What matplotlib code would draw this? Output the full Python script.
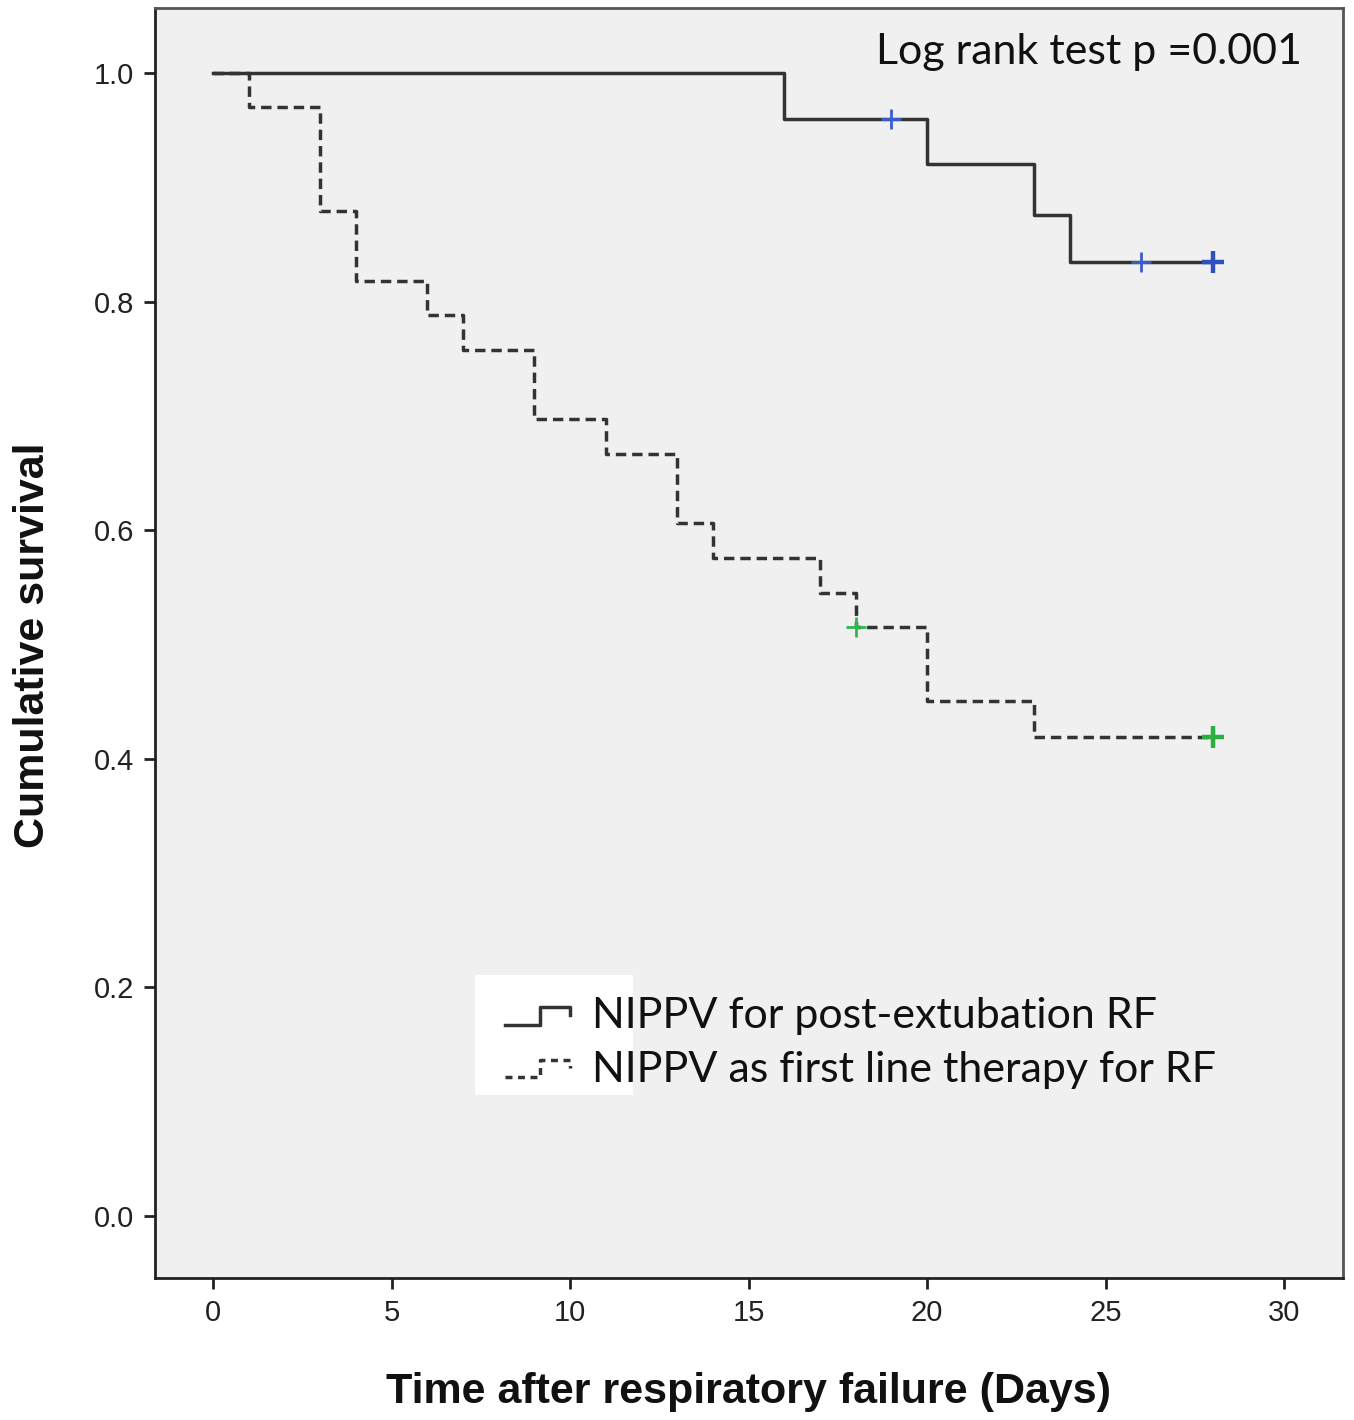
import matplotlib
matplotlib.use("Agg")
import matplotlib.pyplot as plt
from matplotlib.patches import Rectangle
from matplotlib.lines import Line2D

# ---- data ----
post_ext_times = [0, 16, 20, 23, 24, 28]
post_ext_surv = [1.0, 0.96, 0.92, 0.876, 0.835, 0.835]
post_ext_cens_t = [19, 26, 28]
post_ext_cens_s = [0.96, 0.835, 0.835]

first_line_times = [0, 1, 3, 4, 6, 7, 9, 11, 13, 14, 17, 18, 20, 23, 28]
first_line_surv = [1.0, 0.97, 0.879, 0.818, 0.788, 0.758, 0.697, 0.667,
                   0.606, 0.576, 0.545, 0.515, 0.451, 0.419, 0.419]
first_line_cens_t = [18, 28]
first_line_cens_s = [0.515, 0.419]

x_ticks = [0, 5, 10, 15, 20, 25, 30]
y_ticks = [0.0, 0.2, 0.4, 0.6, 0.8, 1.0]
legend_labels = ["NIPPV for post-extubation RF", "NIPPV as first line therapy for RF"]

W, H = 1354, 1420
fig = plt.figure(figsize=(W / 100, H / 100), dpi=100)
fig.patch.set_facecolor("white")
ax = fig.add_axes([155 / W, 1 - 1278 / H, (1343 - 155) / W, (1278 - 8) / H])
ax.set_facecolor("#f0f0f0")

line_col = "#333333"
ax.step(post_ext_times, post_ext_surv, where="post", color=line_col, lw=2.5, zorder=3)
ax.step(first_line_times, first_line_surv, where="post", color=line_col, lw=2.5,
        ls=(0, (3.0, 1.7)), zorder=3)

ax.plot(post_ext_cens_t[:-1], post_ext_cens_s[:-1], ls="none", marker="+", ms=14, mew=2,
        color="#3a5fcd", zorder=4)
ax.plot(post_ext_cens_t[-1:], post_ext_cens_s[-1:], ls="none", marker="+", ms=16, mew=3.2,
        color="#3050c0", zorder=4)
ax.plot(first_line_cens_t[:-1], first_line_cens_s[:-1], ls="none", marker="+", ms=14, mew=2,
        color="#2eb84a", zorder=4)
ax.plot(first_line_cens_t[-1:], first_line_cens_s[-1:], ls="none", marker="+", ms=16, mew=3.2,
        color="#28b040", zorder=4)

ax.set_xlim(-1.625, 31.65)
ax.set_ylim(-0.0542, 1.0569)
ax.set_xticks(x_ticks)
ax.set_yticks(y_ticks)
ax.set_xticklabels([str(v) for v in x_ticks])
ax.set_yticklabels([f"{v:.1f}" for v in y_ticks])
ax.tick_params(direction="out", length=8, width=2, colors="#222222",
               labelsize=21, pad=7)
for lab in ax.get_xticklabels() + ax.get_yticklabels():
    lab.set_family(["Liberation Sans", "DejaVu Sans"])
for s in ax.spines.values():
    s.set_linewidth(2)
    s.set_color("#222222")
ax.spines["top"].set_color("#555555")
ax.spines["right"].set_color("#555555")

lab_font = ["Liberation Sans Narrow", "Liberation Sans", "DejaVu Sans"]
fig.text(749 / W, 1 - 1392 / H, "Time after respiratory failure (Days)",
         ha="center", va="center", fontsize=31, fontweight="bold", family=lab_font,
         color="#111111")
fig.text(33 / W, 1 - 645 / H, "Cumulative survival", rotation=90,
         ha="center", va="center", fontsize=31, fontweight="bold", family=lab_font,
         color="#111111")

txt_font = ["Lato", "Open Sans", "DejaVu Sans"]
fig.text(1302 / W, 1 - 52 / H, "Log rank test p =0.001", ha="right", va="center",
         fontsize=31, family=txt_font, color="#111111")

# legend block
def axf(px, py):
    return (px - 155) / 1188, (1278 - py) / 1270

x0, y0 = axf(475, 1095)
x1, y1 = axf(633, 975)
ax.add_patch(Rectangle((x0, y0), x1 - x0, y1 - y0, transform=ax.transAxes,
                       facecolor="white", edgecolor="none", zorder=2))

def handle(ybase, ytop, ls):
    pts = [axf(505, ybase), axf(540, ybase), axf(540, ytop), axf(570, ytop), axf(570, ytop + 8)]
    xs = [p[0] for p in pts]
    ys = [p[1] for p in pts]
    ax.add_line(Line2D(xs, ys, transform=ax.transAxes, color=line_col, lw=2.5,
                       ls=ls, zorder=5))

handle(1025, 1007, "-")
handle(1077, 1060, (0, (2.0, 1.6)))

tx, ty1 = axf(592, 1016)
_, ty2 = axf(592, 1070)
ax.text(tx, ty1, legend_labels[0], transform=ax.transAxes, ha="left", va="center",
        fontsize=31, family=txt_font, color="#111111", zorder=5)
ax.text(tx, ty2, legend_labels[1], transform=ax.transAxes, ha="left", va="center",
        fontsize=31, family=txt_font, color="#111111", zorder=5)

fig.savefig("out.png", dpi=100, facecolor="white")
